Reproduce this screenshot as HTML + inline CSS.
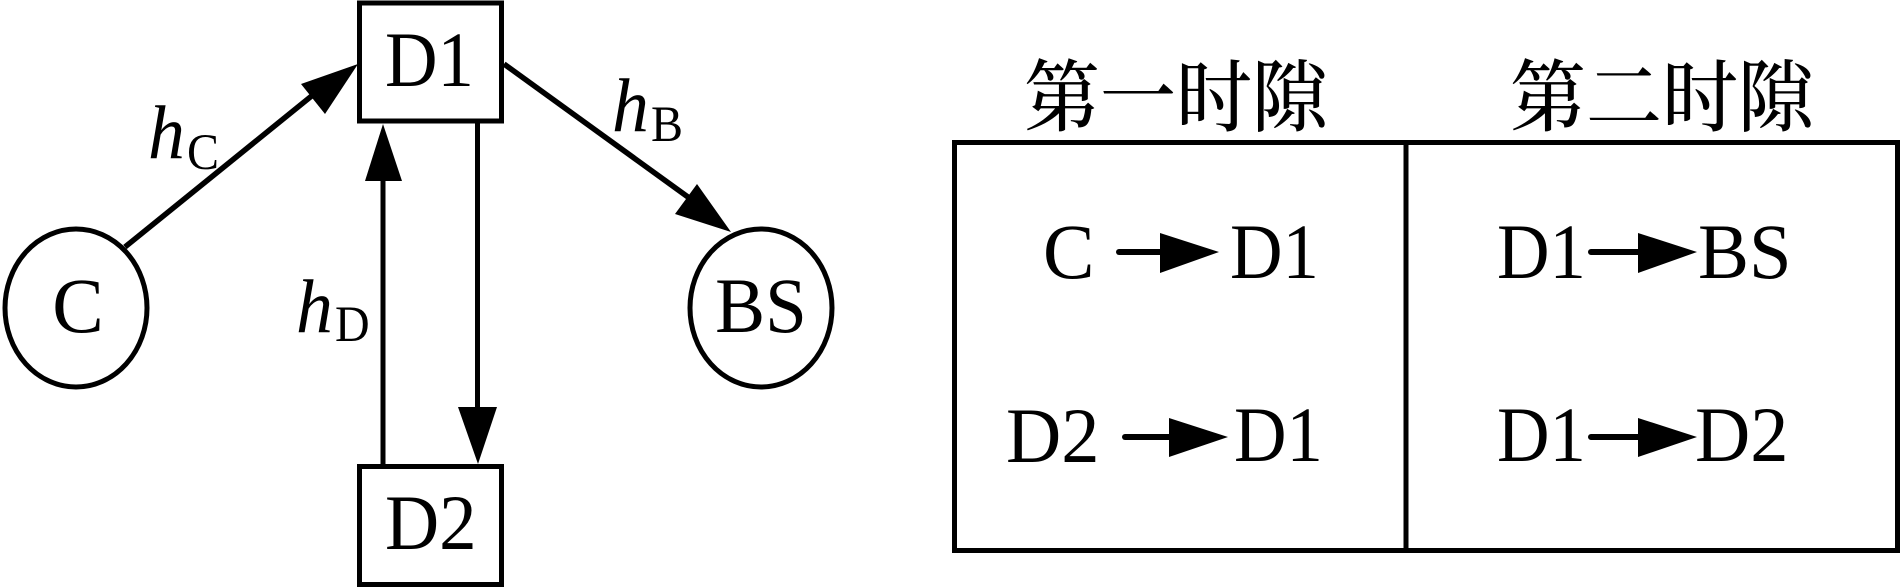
<!DOCTYPE html>
<html lang="zh">
<head>
<meta charset="utf-8">
<style>
html,body{margin:0;padding:0;background:#fff;width:1902px;height:588px;overflow:hidden}
svg{display:block}
text{font-family:"Liberation Serif","Noto Serif CJK SC",serif;fill:#000}
.m{font-size:75px}
.s{font-size:48px}
.i{font-size:76px;font-style:italic}
.z{font-size:76px;font-family:"Noto Serif CJK SC",serif;font-weight:500}
</style>
</head>
<body>
<svg width="1902" height="588" viewBox="0 0 1902 588" xmlns="http://www.w3.org/2000/svg">
<rect width="1902" height="588" fill="#fff"/>
<g fill="none" stroke="#000" stroke-width="5">
<rect x="359.500" y="3" width="142" height="118"/>
<rect x="359.500" y="466.500" width="142" height="118"/>
<ellipse cx="76" cy="308" rx="71" ry="79"/>
<ellipse cx="761" cy="308" rx="71" ry="79"/>
<line x1="125" y1="247" x2="319" y2="90" stroke-width="5.500"/>
<line x1="504" y1="64" x2="699" y2="205" stroke-width="5.500"/>
<line x1="383" y1="465" x2="383" y2="170"/>
<line x1="477.500" y1="122" x2="477.500" y2="415"/>
<rect x="954.500" y="142.500" width="943" height="408"/>
<line x1="1406" y1="142" x2="1406" y2="551"/>
<line x1="1119" y1="252" x2="1170" y2="252" stroke-width="6" stroke-linecap="round"/>
<line x1="1591" y1="252" x2="1650" y2="252" stroke-width="6" stroke-linecap="round"/>
<line x1="1125" y1="437" x2="1180" y2="437" stroke-width="6" stroke-linecap="round"/>
<line x1="1591" y1="437" x2="1650" y2="437" stroke-width="6" stroke-linecap="round"/>
</g>
<g fill="#000">
<polygon points="358,64 301,84 325,114"/>
<polygon points="731,232 675,214 697,184"/>
<polygon points="383,124 365,181 402,181"/>
<polygon points="478,464 458,407 497,407"/>
<polygon points="1219,252 1160,233 1160,273"/>
<polygon points="1697,252 1638,233 1638,273"/>
<polygon points="1228,437 1169,418 1169,457"/>
<polygon points="1697,437 1638,418 1638,457"/>
</g>
<text class="m" transform="translate(385,86) scale(.97,1.05)">D1</text>
<text class="m" transform="translate(385,549) scale(1,1.05)">D2</text>
<text class="m" text-anchor="middle" transform="translate(78,332) scale(1.03,1.05)">C</text>
<text class="m" text-anchor="middle" transform="translate(761,332) scale(1,1.05)">BS</text>
<text class="i" transform="translate(148,158) scale(.97,1)">h</text>
<text class="s" transform="translate(187,169) scale(1,1.05)">C</text>
<text class="i" transform="translate(612,131) scale(.97,1)">h</text>
<text class="s" transform="translate(651,141) scale(1,1.05)">B</text>
<text class="i" transform="translate(296,332) scale(.97,1)">h</text>
<text class="s" transform="translate(335,341) scale(1,1.05)">D</text>
<text class="z" transform="translate(1024,125) scale(1,1.04)">第一时隙</text>
<text class="z" transform="translate(1510,125) scale(1,1.04)">第二时隙</text>
<text class="m" transform="translate(1043,278) scale(1.03,1.05)">C</text>
<text class="m" transform="translate(1230,278) scale(.97,1.05)">D1</text>
<text class="m" transform="translate(1497,278) scale(.97,1.05)">D1</text>
<text class="m" transform="translate(1698,278) scale(1.02,1.05)">BS</text>
<text class="m" transform="translate(1006,462) scale(1.02,1.05)">D2</text>
<text class="m" transform="translate(1234,461) scale(.97,1.05)">D1</text>
<text class="m" transform="translate(1497,461) scale(.97,1.05)">D1</text>
<text class="m" transform="translate(1695,461) scale(1.02,1.05)">D2</text>
</svg>
</body>
</html>
